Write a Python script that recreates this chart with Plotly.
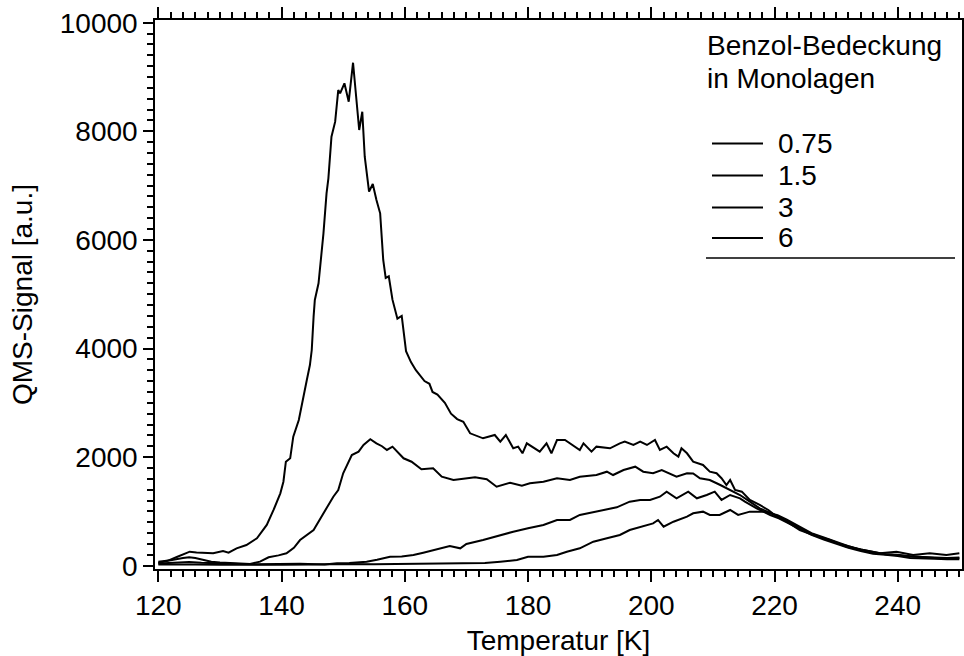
import plotly.graph_objects as go

# ---- data ----
coverages = ["0.75", "1.5", "3", "6"]

t_075 = [120, 123, 126, 130, 135, 140, 145, 150, 155, 160, 165, 170, 173, 175.5, 178.2, 180, 182.5,
         184.7, 186.3, 188.4, 190.6, 192.8, 194.9, 196.5, 198.2, 200.3, 201.1, 202, 203.6, 205.8,
         206.8, 208.4, 209.5, 211.1, 212.8, 214.1, 216, 218.2, 219.3, 220.5, 222, 224, 226, 228,
         230, 232, 234, 236, 238, 240, 242, 244, 246, 248, 250]
v_075 = [20, 25, 20, 15, 10, 15, 20, 30, 25, 30, 30, 45, 50, 74, 105, 166, 166,
         197, 258, 320, 442, 505, 565, 657, 718, 780, 842, 718, 810, 902,
         965, 995, 934, 934, 1026, 934, 995, 995, 965, 930, 850, 720, 600, 520,
         440, 360, 300, 260, 210, 190, 170, 150, 140, 130, 140]

t_15 = [120, 123, 125, 127, 130, 133, 136, 140, 143, 147, 149, 151, 153.8, 155.5, 157.6, 159.5,
        161.4, 163, 164.6, 167.3, 169, 170, 172.7, 175.5, 177.6, 180, 182.5, 184.7, 186.8, 188.4,
        191.1, 192.8, 194.4, 196.5, 198.2, 199.8, 201.4, 202.5, 204.1, 206, 207.4, 209, 210.3,
        211.4, 212.8, 214.4, 215.2, 217.1, 219.3, 220.7, 222, 224, 226, 228, 230, 232, 234, 236,
        238, 240, 242, 244, 246, 248, 250]
v_15 = [40, 60, 70, 55, 40, 30, 25, 30, 35, 20, 45, 50, 74, 110, 166, 170,
        197, 240, 289, 362, 320, 400, 473, 565, 626, 688, 750, 842, 842, 934,
        995, 1026, 1075, 1179, 1210, 1210, 1271, 1363, 1241, 1363, 1241, 1302, 1363,
        1210, 1302, 1241, 1179, 1057, 934, 873, 800, 680, 570, 480, 400, 330, 270, 220,
        200, 180, 140, 140, 130, 120, 120]

t_3 = [120, 122, 124, 125, 126, 127.5, 128.6, 130, 132, 134.9, 136.5, 137.9, 139.5, 140.8, 142,
       143, 145.2, 146.8, 148.4, 149.2, 150, 151.4, 152.5, 153.3, 154.4, 155.4, 156.3, 157.1, 158,
       159.8, 161.1, 162.7, 164.6, 166, 167.9, 169.5, 171.4, 173.3, 174.9, 177.1, 179, 180.3,
       182.5, 184.7, 186.8, 188.4, 191.1, 192.8, 193.8, 195.5, 197.4, 198.7, 200.3, 201.7, 203,
       204.1, 205.8, 206.8, 207.9, 209.5, 211.2, 212.8, 214.4, 216, 217.6, 219.5, 222, 224, 226,
       228, 230, 232, 234, 236, 238, 240, 242, 244, 246, 248, 250]
v_3 = [74, 100, 140, 155, 140, 100, 74, 60, 45, 31, 74, 155, 190, 228, 330,
       473, 657, 965, 1271, 1394, 1702, 2039, 2100, 2223, 2328, 2254, 2200, 2131, 2192,
       1978, 1915, 1775, 1794, 1639, 1578, 1600, 1628, 1591, 1455, 1529, 1473, 1517,
       1547, 1610, 1578, 1639, 1670, 1731, 1670, 1762, 1823, 1731, 1702, 1762, 1702,
       1639, 1702, 1700, 1610, 1578, 1486, 1394, 1302, 1179, 1057, 965, 830, 700, 590,
       500, 420, 360, 290, 240, 210, 200, 170, 160, 150, 140, 150]

t_6 = [120, 121.5, 123, 124, 125.1, 126.2, 127.5, 128.9, 130.5, 131.4, 132.7, 134.3, 136, 137.6,
       138.7, 139.8, 140.3, 140.7, 141.4, 141.9, 142.8, 143.5, 144.1, 144.6, 144.9, 145.2, 145.4,
       146, 146.5, 146.8, 147.3, 147.6, 148.1, 148.7, 149.2, 149.5, 150.2, 150.9, 151.6, 152.6,
       153.1, 153.5, 154.2, 154.8, 155.4, 156, 156.5, 156.9, 157.4, 158, 158.8, 159.5, 160.2,
       161, 161.8, 162.5, 163.2, 164, 164.5, 165.3, 166.5, 167.5, 168.5, 169.5, 170.6, 172.7,
       174.6, 175.5, 176.4, 177.6, 178.4, 179.1, 179.8, 181.9, 183, 183.8, 184.7, 186, 187.3,
       188.4, 189, 190.3, 191.1, 193.3, 194.9, 195.7, 197.1, 198.2, 199.3, 200.6, 201.4, 202.5,
       203.6, 204.4, 204.9, 205.8, 206.8, 208.4, 209.5, 210.6, 211.4, 212.2, 212.8, 213.6, 214.7,
       216, 217.6, 219, 220.4, 222, 224.1, 226.3, 229, 231.7, 234.4, 237.1, 239.8, 242.5, 245.2,
       247.9, 250]
v_6 = [50, 90, 160, 210, 258, 245, 235, 228, 270, 240, 320, 381, 505, 750,
       1026, 1333, 1547, 1915, 1978, 2376, 2683, 3112, 3420, 3696, 3972, 4586, 4893,
       5200, 5700, 6121, 6858, 7134, 7900, 8177, 8760, 8700, 8884, 8545, 9263, 8024,
       8361, 7532, 6888, 7029, 6735, 6490, 5630, 5300, 5330, 4900, 4550, 4600, 3950,
       3750, 3600, 3500, 3400, 3350, 3200, 3150, 3000, 2800, 2700, 2650, 2438, 2346,
       2407, 2284, 2407, 2162, 2192, 2070, 2254, 2100, 2254, 2070, 2315, 2315, 2223,
       2131, 2254, 2100, 2192, 2162, 2254, 2285, 2223, 2284, 2223, 2315, 2131, 2192,
       2070, 2008, 2162, 2070, 1915, 1855, 1731, 1702, 1610, 1486, 1578, 1394, 1363,
       1210, 1118, 1026, 902, 810, 657, 565, 473, 350, 289, 228, 258, 197, 228,
       197, 228]

series_t = [t_075, t_15, t_3, t_6]
series_v = [v_075, v_15, v_3, v_6]

x_title = "Temperatur [K]"
y_title = "QMS-Signal [a.u.]"
legend_title = ["Benzol-Bedeckung", "in Monolagen"]

FONT = "Liberation Sans, Arial, Helvetica, sans-serif"
FS = 28

fig = go.Figure()
for name, t, v in zip(coverages, series_t, series_v):
    fig.add_trace(go.Scatter(x=t, y=v, mode="lines", name=name,
                             line=dict(color="black", width=2), showlegend=False))

axis_common = dict(showline=True, linecolor="black", linewidth=1.5, mirror="allticks",
                   ticks="outside", tickcolor="black", tickwidth=1.5, showgrid=False,
                   zeroline=False, automargin=False,
                   tickfont=dict(family=FONT, size=FS, color="black"))

fig.update_xaxes(range=[119.46, 250.43], dtick=20, tick0=0, ticklen=11,
                 minor=dict(dtick=2, ticklen=6, ticks="outside", tickcolor="black", tickwidth=1.5),
                 title=dict(text=x_title, font=dict(family=FONT, size=FS, color="black"), standoff=14),
                 **axis_common)
fig.update_yaxes(range=[-61, 10050], dtick=2000, tick0=0, ticklen=10,
                 tickformat="d",
                 minor=dict(dtick=200, ticklen=6, ticks="outside", tickcolor="black", tickwidth=1.5),
                 title=dict(text=y_title, font=dict(family=FONT, size=FS, color="black"), standoff=19),
                 **axis_common)

# ---- legend drawn in paper coordinates ----
def px_x(p):
    return (p - 155) / 807.0

def px_y(p):
    return (569 - p) / 549.0

anns = []
for i, line in enumerate(legend_title):
    anns.append(dict(text=line, x=px_x(705), y=px_y(45.5 + 33.3 * i), xref="paper", yref="paper",
                     xanchor="left", yanchor="middle", showarrow=False,
                     font=dict(family=FONT, size=FS, color="black")))
entry_y = [143.5, 175.5, 207.5, 238]
shapes = []
for name, yy in zip(coverages, entry_y):
    shapes.append(dict(type="line", xref="paper", yref="paper", x0=px_x(712), x1=px_x(763),
                       y0=px_y(yy), y1=px_y(yy), line=dict(color="black", width=2)))
    anns.append(dict(text=name, x=px_x(776), y=px_y(yy), xref="paper", yref="paper",
                     xanchor="left", yanchor="middle", showarrow=False,
                     font=dict(family=FONT, size=FS, color="black")))
shapes.append(dict(type="line", xref="paper", yref="paper", x0=px_x(706), x1=px_x(955),
                   y0=px_y(258), y1=px_y(258), line=dict(color="black", width=1.5)))

fig.update_layout(width=964, height=656, autosize=False,
                  margin=dict(l=155, r=2, t=20, b=87, autoexpand=False),
                  paper_bgcolor="white", plot_bgcolor="white", showlegend=False,
                  annotations=anns, shapes=shapes,
                  font=dict(family=FONT, size=FS, color="black"))

fig.write_html("out.html", config={"responsive": False},
               post_script="document.documentElement.style.overflow='hidden';"
                           "document.body.style.overflow='hidden';"
                           "document.body.style.margin='0';")
